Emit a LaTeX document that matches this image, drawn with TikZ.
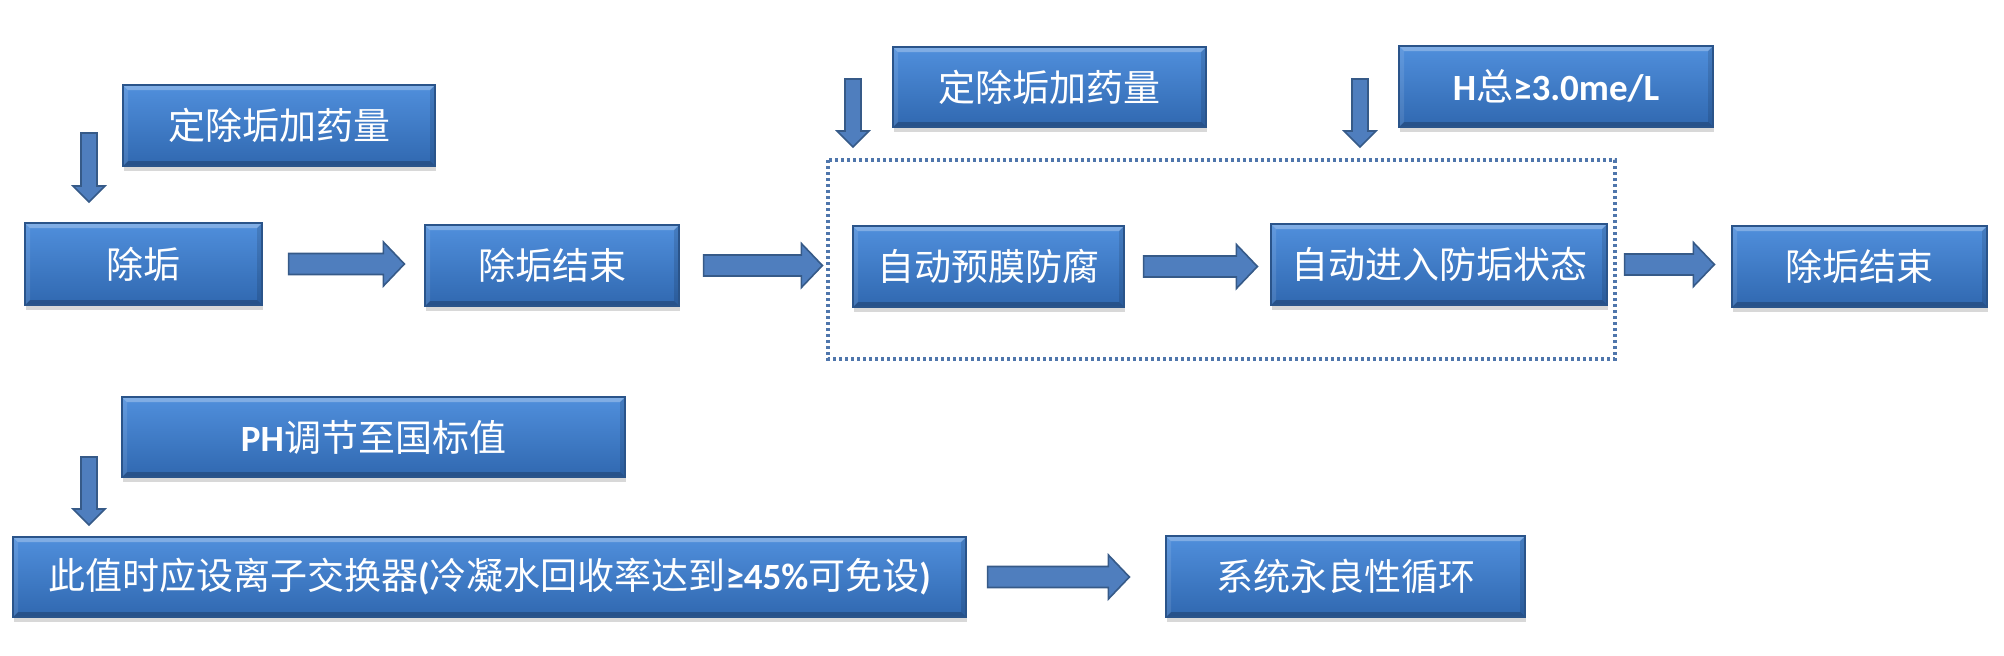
\documentclass[tikz,border=0pt]{standalone}
\usepackage{fontspec}
\setmainfont{Carlito}
\IfFontExistsTF{FandolSong-Regular.otf}
  {\newfontfamily\cjk{FandolSong-Regular.otf}}
  {\newfontfamily\cjk{Noto Sans CJK SC}}
\newfontfamily\latn{Carlito}
\usetikzlibrary{calc,shadows}
\definecolor{boxtop}{RGB}{80,143,220}
\definecolor{boxbot}{RGB}{48,104,176}
\definecolor{boxline}{RGB}{42,84,138}
\definecolor{arrfill}{RGB}{79,126,190}
\definecolor{arrline}{RGB}{54,90,136}
\definecolor{dotc}{RGB}{79,118,172}
\tikzset{
  fbox/.style={rectangle, inner sep=0pt, top color=boxtop, bottom color=boxbot,
    draw=boxline, line width=0.6pt, text=white,
    font=\cjk\fontsize{18.5}{20}\selectfont,
    drop shadow={shadow xshift=0.4pt, shadow yshift=-2.5pt, opacity=0.28, fill=black!55},
    path picture={
      \fill[white,opacity=0.28] (path picture bounding box.north west) -- (path picture bounding box.north east)
        -- ([xshift=-2.5pt,yshift=-2.5pt]path picture bounding box.north east)
        -- ([xshift=2.5pt,yshift=-2.5pt]path picture bounding box.north west) -- cycle;
      \fill[black,opacity=0.22] (path picture bounding box.south west) -- (path picture bounding box.south east)
        -- ([xshift=-2.5pt,yshift=2.5pt]path picture bounding box.south east)
        -- ([xshift=2.5pt,yshift=2.5pt]path picture bounding box.south west) -- cycle;
      \fill[white,opacity=0.1] (path picture bounding box.north west) -- ([xshift=2.5pt,yshift=-2.5pt]path picture bounding box.north west)
        -- ([xshift=2.5pt,yshift=2.5pt]path picture bounding box.south west) -- (path picture bounding box.south west) -- cycle;
      \fill[black,opacity=0.12] (path picture bounding box.north east) -- ([xshift=-2.5pt,yshift=-2.5pt]path picture bounding box.north east)
        -- ([xshift=-2.5pt,yshift=2.5pt]path picture bounding box.south east) -- (path picture bounding box.south east) -- cycle;
    }},
  blockarr/.style={fill=arrfill, draw=arrline, line width=0.8pt, line join=miter},
  dotbox/.style={draw=dotc, line width=1.6pt, dash pattern=on 1.6pt off 1.4pt}
}
\newcommand\harrow[2]{%
  \filldraw[blockarr] let \p1=(#1), \p2=(#2) in
    (\x1,\y1+5.25pt) -- (\x2-10.5pt,\y1+5.25pt) -- (\x2-10.5pt,\y1+11pt) -- (\x2,\y1)
    -- (\x2-10.5pt,\y1-11pt) -- (\x2-10.5pt,\y1-5.25pt) -- (\x1,\y1-5.25pt) -- cycle;}
\newcommand\varrow[2]{%
  \filldraw[blockarr] let \p1=(#1), \p2=(#2) in
    (\x1-4pt,\y1) -- (\x1+4pt,\y1) -- (\x1+4pt,\y2+8pt) -- (\x1+8pt,\y2+8pt) -- (\x1,\y2)
    -- (\x1-8pt,\y2+8pt) -- (\x1-4pt,\y2+8pt) -- cycle;}
\begin{document}
\begin{tikzpicture}[x=0.5pt,y=-0.5pt]
\useasboundingbox[fill=white] (0,0) rectangle (2004,655);
% dotted group
\draw[dotbox] (828,160) rectangle (1615,359);
% boxes
\node[fbox, minimum width=156pt, minimum height=40.5pt] (dose1) at (279,125.5) {定除垢加药量};
\node[fbox, minimum width=118.5pt, minimum height=41pt] (chugou) at (143.5,264) {除垢};
\node[fbox, minimum width=127pt, minimum height=40.5pt] (end1) at (552,265.5) {除垢结束};
\node[fbox, minimum width=156.5pt, minimum height=40pt] (dose2) at (1049.5,87) {定除垢加药量};
\node[fbox, minimum width=157pt, minimum height=40.5pt] (hbox) at (1556,86.5) {{\latn\bfseries H}总{\latn\bfseries ≥3.0me/L}};
\node[fbox, minimum width=135.5pt, minimum height=40.5pt] (yumo) at (988.5,266.5) {自动预膜防腐};
\node[fbox, minimum width=168pt, minimum height=40.5pt] (fanggou) at (1439,264.5) {自动进入防垢状态};
\node[fbox, minimum width=127.5pt, minimum height=40.5pt] (end2) at (1859.5,266.5) {除垢结束};
\node[fbox, minimum width=251.5pt, minimum height=40pt] (ph) at (373.5,437) {{\latn\bfseries PH}调节至国标值};
\node[fbox, minimum width=476.5pt, minimum height=40pt] (ion) at (489.5,577) {此值时应设离子交换器{\latn\bfseries (}冷凝水回收率达到{\latn\bfseries ≥45\%}可免设{\latn\bfseries )}};
\node[fbox, minimum width=179.5pt, minimum height=40.5pt] (cycle) at (1345.5,576.5) {系统永良性循环};
% horizontal block arrows
\coordinate (a1s) at ([xshift=13pt]chugou.east);
\coordinate (a1e) at ([xshift=-10pt]end1.west);
\harrow{a1s}{a1e}
\coordinate (a2s) at ([xshift=12pt]end1.east);
\coordinate (a2e) at ([xshift=-15pt]yumo.west);
\harrow{a2s}{a2e}
\coordinate (a3s) at ([xshift=9.5pt]yumo.east);
\coordinate (a3e) at ([xshift=-6.5pt]fanggou.west);
\harrow{a3s}{a3e}
\coordinate (a4s) at ([xshift=8.5pt]fanggou.east);
\coordinate (a4e) at ([xshift=-8.5pt]end2.west);
\harrow{a4s}{a4e}
\coordinate (a5s) at ([xshift=10.5pt]ion.east);
\coordinate (a5e) at ([xshift=-18pt]cycle.west);
\harrow{a5s}{a5e}
% down block arrows
\coordinate (d1s) at (89,133);
\coordinate (d1e) at (89,202);
\varrow{d1s}{d1e}
\coordinate (d2s) at (853,79);
\coordinate (d2e) at (853,147);
\varrow{d2s}{d2e}
\coordinate (d3s) at (1360,79);
\coordinate (d3e) at (1360,147);
\varrow{d3s}{d3e}
\coordinate (d4s) at (89,457);
\coordinate (d4e) at (89,525);
\varrow{d4s}{d4e}
\end{tikzpicture}
\end{document}
